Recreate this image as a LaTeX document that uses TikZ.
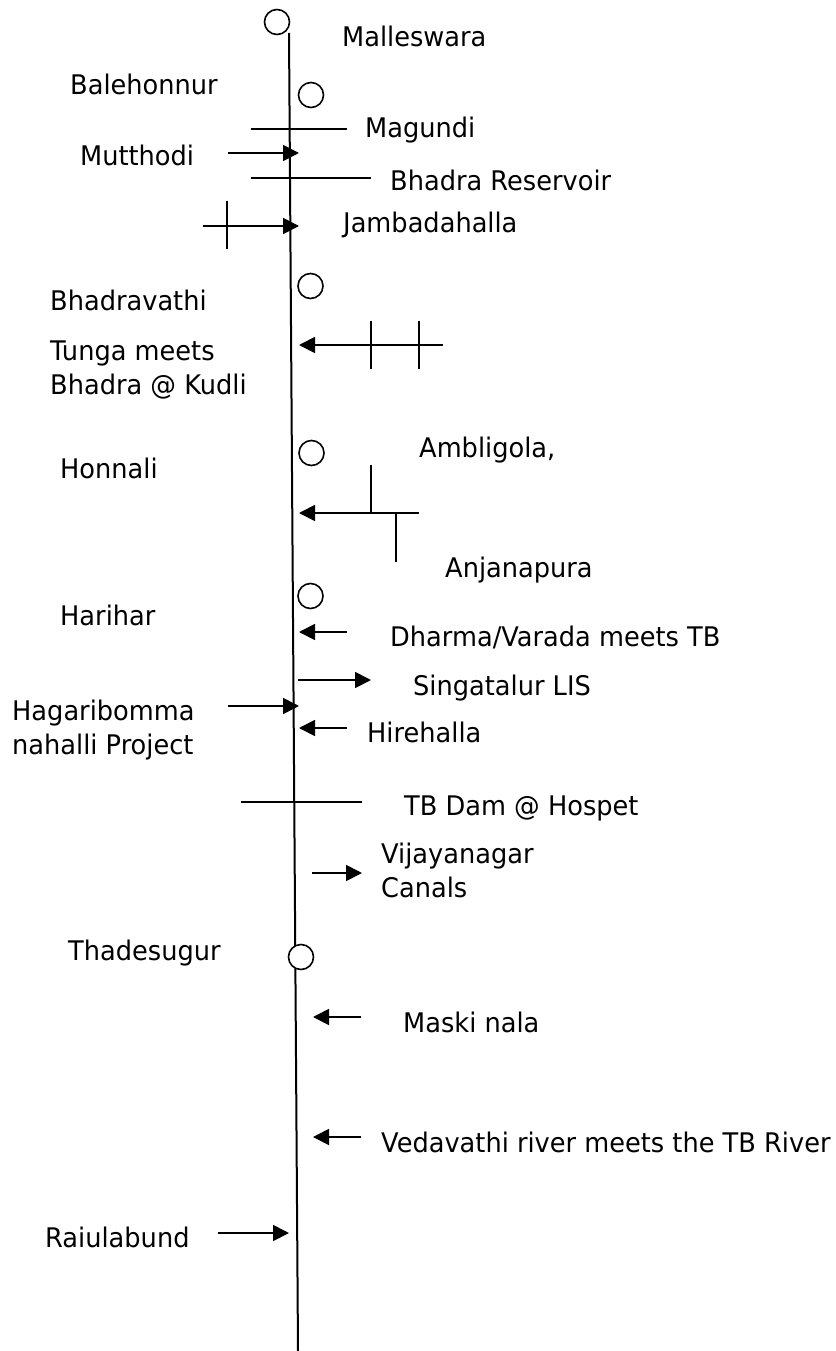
\documentclass[tikz,border=0pt]{standalone}
\usepackage{fontspec}
\setmainfont{DejaVu Sans}[FakeStretch=0.95]
\usetikzlibrary{arrows.meta}
\begin{document}
\begin{tikzpicture}[x=1pt,y=-1pt,
  river/.style={line width=2pt},
  link/.style={line width=1.8pt},
  flow/.style={line width=1.8pt,-{Triangle[length=16pt,width=16pt]}},
  town/.style={circle,draw,line width=1.6pt,minimum size=25pt,inner sep=0pt,fill=white},
  lbl/.style={anchor=base west,inner sep=0pt,font=\fontsize{27}{32}\selectfont}]
\useasboundingbox (0,0) rectangle (835,1351);
% main river
\coordinate (rtop) at (289,33);
\coordinate (rbot) at (298,1351);
\draw[river] (rtop) -- (rbot);
% towns
\node[town] (c1) at (277,22) {};
\node[town] (c2) at (311,95) {};
\node[town] (c3) at (310.5,286) {};
\node[town] (c4) at (311.5,453) {};
\node[town] (c5) at (310.5,596) {};
\node[town] (c6) at (301,957) {};
% dams / barrages
\coordinate (magA) at (251,129); \coordinate (magB) at (347,129);
\draw[link] (magA) -- (magB);
\coordinate (bhrA) at (251,178); \coordinate (bhrB) at (371,178);
\draw[link] (bhrA) -- (bhrB);
\coordinate (tbdA) at (241,802); \coordinate (tbdB) at (362,802);
\draw[link] (tbdA) -- (tbdB);
% arrows
\coordinate (mutA) at (228,153); \coordinate (mutB) at (299,153);
\draw[flow] (mutA) -- (mutB);
\coordinate (jamA) at (203,226); \coordinate (jamB) at (299,226);
\draw[flow] (jamA) -- (jamB);
\coordinate (jamT1) at (227,201); \coordinate (jamT2) at (227,249);
\draw[link] (jamT1) -- (jamT2);
\coordinate (tunA) at (443,345); \coordinate (tunB) at (299,345);
\draw[flow] (tunA) -- (tunB);
\coordinate (tunT1) at (371,321); \coordinate (tunT2) at (371,369);
\coordinate (tunT3) at (419,321); \coordinate (tunT4) at (419,369);
\draw[link] (tunT1) -- (tunT2);
\draw[link] (tunT3) -- (tunT4);
\coordinate (ambA) at (419,513); \coordinate (ambB) at (299,513);
\draw[flow] (ambA) -- (ambB);
\coordinate (ambT1) at (371,465); \coordinate (ambT2) at (371,513);
\coordinate (anjT1) at (396,513); \coordinate (anjT2) at (396,562);
\draw[link] (ambT1) -- (ambT2);
\draw[link] (anjT1) -- (anjT2);
\coordinate (dhaA) at (347,632); \coordinate (dhaB) at (299,632);
\draw[flow] (dhaA) -- (dhaB);
\coordinate (sinA) at (298,680); \coordinate (sinB) at (371,680);
\draw[flow] (sinA) -- (sinB);
\coordinate (hagA) at (228,706); \coordinate (hagB) at (299,706);
\draw[flow] (hagA) -- (hagB);
\coordinate (hirA) at (347,728); \coordinate (hirB) at (299,728);
\draw[flow] (hirA) -- (hirB);
\coordinate (vijA) at (312,873); \coordinate (vijB) at (362,873);
\draw[flow] (vijA) -- (vijB);
\coordinate (masA) at (361,1017); \coordinate (masB) at (313,1017);
\draw[flow] (masA) -- (masB);
\coordinate (vedA) at (361,1137); \coordinate (vedB) at (313,1137);
\draw[flow] (vedA) -- (vedB);
\coordinate (raiA) at (218,1233); \coordinate (raiB) at (289,1233);
\draw[flow] (raiA) -- (raiB);
% labels
\node[lbl] (t1) at (342,47) {Malleswara};
\node[lbl] (t2) at (70,95) {Balehonnur};
\node[lbl] (t3) at (365,138) {Magundi};
\node[lbl] (t4) at (80,166) {Mutthodi};
\node[lbl] (t5) at (390,190) {Bhadra Reservoir};
\node[lbl] (t6) at (343,233) {Jambadahalla};
\node[lbl] (t7) at (50,310) {Bhadravathi};
\node[lbl] (t8a) at (50,360) {Tunga meets};
\node[lbl] (t8b) at (50,394) {Bhadra @ Kudli};
\node[lbl] (t9) at (60,478) {Honnali};
\node[lbl] (t10) at (419,457) {Ambligola,};
\node[lbl] (t11) at (445,577) {Anjanapura};
\node[lbl] (t12) at (60,625) {Harihar};
\node[lbl] (t13) at (390,646) {Dharma/Varada meets TB};
\node[lbl] (t14) at (413,695) {Singatalur LIS};
\node[lbl] (t15a) at (12,720) {Hagaribomma};
\node[lbl] (t15b) at (12,754) {nahalli Project};
\node[lbl] (t16) at (367,742) {Hirehalla};
\node[lbl] (t17) at (404,815) {TB Dam @ Hospet};
\node[lbl] (t18a) at (381,863) {Vijayanagar};
\node[lbl] (t18b) at (381,897) {Canals};
\node[lbl] (t19) at (68,960) {Thadesugur};
\node[lbl] (t20) at (403,1032) {Maski nala};
\node[lbl] (t21) at (381,1152) {Vedavathi river meets the TB River};
\node[lbl] (t22) at (45,1247) {Raiulabund};
\end{tikzpicture}
\end{document}
